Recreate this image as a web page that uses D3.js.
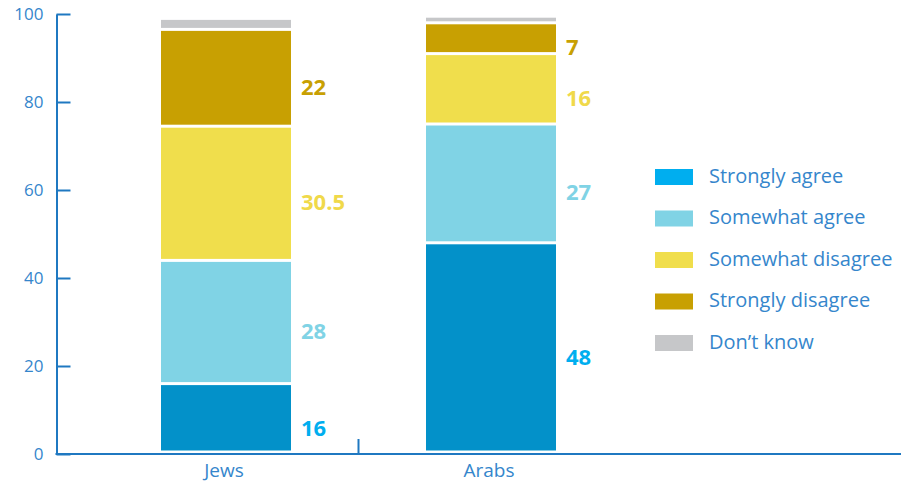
<!DOCTYPE html>
<html>
<head>
<meta charset="utf-8">
<script src="https://cdn.jsdelivr.net/npm/d3@7"></script>
<style>
  html, body { margin: 0; padding: 0; background: #fff; }
  svg { display: block; font-family: "Open Sans", "Noto Sans", sans-serif; }
</style>
</head>
<body>
<svg id="chart" width="901" height="485"></svg>
<script>
// Survey groups and response categories
const groups = ["Jews", "Arabs"];
const responses = ["Strongly agree", "Somewhat agree", "Somewhat disagree", "Strongly disagree", "Don\u2019t know"];

// Percent of respondents per response, per group (order follows `responses`)
const jewsValues  = [16, 28, 30.5, 22, 2.5];
const arabsValues = [48, 27, 16, 7, 1.5];

// Which segments carry a printed value
const labelled = [true, true, true, true, false];

const yTicks = [0, 20, 40, 60, 80, 100];

const barColors    = ["#0391c9", "#80d3e5", "#f0de4c", "#c8a002", "#c6c7c9"];
const swatchColors = ["#00aeef", "#80d3e5", "#f0de4c", "#c8a002", "#c6c7c9"];
const labelColors  = ["#00aeef", "#80d3e5", "#f0d94a", "#c8a002", "#c6c7c9"];
const axisColor = "#1f78c1";
const textColor = "#3586cc";

const svg = d3.select("#chart");

const x = d3.scaleBand().domain(groups).range([93.5, 623.5]).paddingInner(0).paddingOuter(0);
const y = d3.scaleLinear().domain([0, 100]).range([454, 14]);
const barWidth = 130;

// Stack the values of each group
const table = groups.map((g, i) => {
  const vals = i === 0 ? jewsValues : arabsValues;
  const row = { group: g };
  responses.forEach((r, j) => row[r] = vals[j]);
  return row;
});
const stacked = d3.stack().keys(responses)(table);

// Bars, with a thin white gap between stacked segments
const gap = 1.5;
stacked.forEach((layer, j) => {
  svg.append("g")
    .selectAll("rect")
    .data(layer)
    .join("rect")
      .attr("x", d => x(d.data.group) + x.bandwidth() / 2 - barWidth / 2)
      .attr("y", d => y(d[1]) + gap)
      .attr("width", barWidth)
      .attr("height", d => Math.max(0, y(d[0]) - y(d[1]) - 2 * gap - (d[0] === 0 ? 2 : 0)))
      .attr("fill", barColors[j]);
});

// Value labels beside each segment
stacked.forEach((layer, j) => {
  if (!labelled[j]) return;
  svg.append("g")
    .selectAll("text")
    .data(layer)
    .join("text")
      .attr("x", d => x(d.data.group) + x.bandwidth() / 2 + barWidth / 2 + 10)
      .attr("y", d => (y(d[0]) + y(d[1])) / 2 + 8)
      .attr("dominant-baseline", "central")
      .attr("fill", labelColors[j])
      .attr("font-size", 22)
      .attr("font-weight", 700)
      .text(d => d.data[responses[j]]);
});

// Y axis
const yAxis = svg.append("g")
  .attr("transform", "translate(56.5,0)")
  .call(d3.axisRight(y).tickValues(yTicks).tickSize(14).tickSizeOuter(0).tickFormat(d3.format("d")));
yAxis.select(".domain").attr("stroke", axisColor).attr("stroke-width", 2);
yAxis.selectAll(".tick line").attr("stroke", axisColor).attr("stroke-width", 2);
yAxis.selectAll(".tick text")
  .attr("x", -13)
  .attr("text-anchor", "end")
  .attr("fill", textColor)
  .attr("font-size", 17)
  .attr("font-family", "\"Open Sans\", sans-serif");

// X axis baseline
svg.append("line")
  .attr("x1", 55.5).attr("x2", 901)
  .attr("y1", y(0)).attr("y2", y(0))
  .attr("stroke", axisColor).attr("stroke-width", 2);

// Divider tick between the groups
const divX = x(groups[1]);
svg.append("line")
  .attr("x1", divX).attr("x2", divX)
  .attr("y1", y(0)).attr("y2", y(0) - 15)
  .attr("stroke", axisColor).attr("stroke-width", 2);

// Group labels
svg.append("g")
  .selectAll("text")
  .data(groups)
  .join("text")
    .attr("x", d => x(d) + x.bandwidth() / 2 - 2)
    .attr("y", 470)
    .attr("text-anchor", "middle")
    .attr("dominant-baseline", "central")
    .attr("fill", textColor)
    .attr("font-size", 19)
    .text(d => d);

// Legend
const legend = svg.append("g")
  .selectAll("g")
  .data(responses)
  .join("g")
    .attr("transform", (d, i) => `translate(655,${169 + i * 41.5})`);
legend.append("rect")
  .attr("width", 38).attr("height", 16)
  .attr("fill", (d, i) => swatchColors[i]);
legend.append("text")
  .attr("x", 54).attr("y", 6)
  .attr("dominant-baseline", "central")
  .attr("fill", textColor)
  .attr("font-size", 20)
  .text(d => d);
</script>
</body>
</html>
